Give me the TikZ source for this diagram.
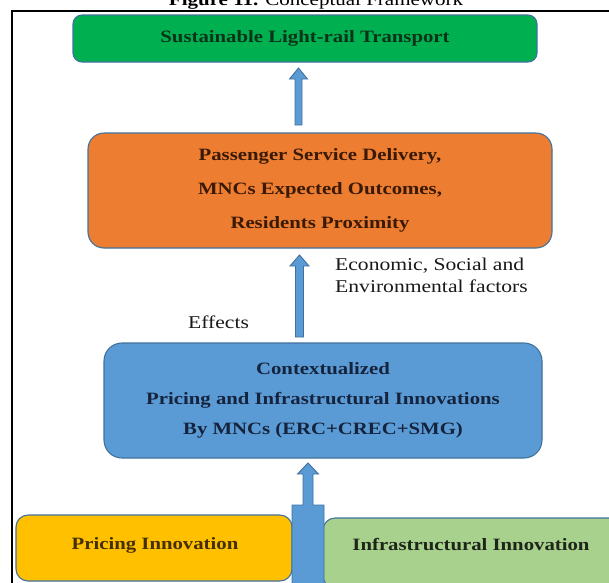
\documentclass[tikz,border=0pt]{standalone}
\usepackage{fontspec}
\setmainfont{Liberation Serif}
\usetikzlibrary{calc}
\definecolor{edgeblue}{HTML}{41719C}
\definecolor{greenfill}{HTML}{00B050}
\definecolor{orangefill}{HTML}{ED7D31}
\definecolor{bluefill}{HTML}{5B9BD5}
\definecolor{yellowfill}{HTML}{FFC000}
\definecolor{lgreenfill}{HTML}{A9D18E}
\definecolor{greentext}{HTML}{0B3318}
\definecolor{orangetext}{HTML}{3A1A05}
\definecolor{bluetext}{HTML}{15233D}
\definecolor{yellowtext}{HTML}{463000}
\definecolor{lgreentext}{HTML}{1E2619}
\newcommand\wx[1]{\scalebox{1.2}[1]{#1}}
\begin{document}
\begin{tikzpicture}[x=1pt,y=-1pt,
  boxstyle/.style={draw=edgeblue, line width=1.1pt, inner sep=0pt, align=center,
     font=\fontsize{17.3}{34}\selectfont\bfseries},
  arrowshape/.style={fill=bluefill, draw=edgeblue, line width=0.9pt, line join=miter},
  plaintext/.style={inner sep=0pt, font=\fontsize{18}{22}\selectfont, text=black!90}]
\useasboundingbox (0,0) rectangle (609,582);
\clip (0,0) rectangle (609,582);
\fill[white] (0,0) rectangle (609,582);
% frame
\draw[line width=1.8pt] (12,640) -- (12,11) -- (640,11);
% title
\node[inner sep=0pt, anchor=base, font=\fontsize{17.5}{20}\selectfont] (title) at (316,5.5)
  {\wx{\textbf{Figure 11.} Conceptual Framework}};
% boxes
\node[boxstyle, fill=greenfill, text=greentext, rounded corners=9pt,
  minimum width=464pt, minimum height=47pt] (slt) at (305,38.5)
  {\wx{Sustainable Light-rail Transport}};
\node[boxstyle, fill=orangefill, text=orangetext, rounded corners=16pt,
  minimum width=464pt, minimum height=115pt] (psd) at (320,190.5)
  {\wx{Passenger Service Delivery,}\\\wx{MNCs Expected Outcomes,}\\\wx{Residents Proximity}};
\node[boxstyle, fill=bluefill, text=bluetext, rounded corners=18pt,
  minimum width=438pt, minimum height=115pt,
  font=\fontsize{17.3}{30}\selectfont\bfseries] (ctx) at (323,400.5)
  {\wx{Contextualized}\\\wx{Pricing and Infrastructural Innovations}\\\wx{By MNCs (ERC+CREC+SMG)}};
\node[boxstyle, fill=yellowfill, text=yellowtext, rounded corners=12pt,
  minimum width=276pt, minimum height=66pt] (pri) at (154,548) {};
\node[inner sep=0pt, text=yellowtext, font=\fontsize{17.3}{20}\selectfont\bfseries] (pritxt) at (155,545)
  {\wx{Pricing Innovation}};
\node[boxstyle, fill=lgreenfill, text=lgreentext, rounded corners=12pt,
  minimum width=300pt, minimum height=70pt] (inf) at (473,553) {};
\node[inner sep=0pt, text=lgreentext, font=\fontsize{17.3}{20}\selectfont\bfseries] (inftxt) at (471,545)
  {\wx{Infrastructural Innovation}};
% labels
\node[plaintext, anchor=west, align=left, font=\fontsize{18}{22}\selectfont] (esf) at (335,275)
  {\wx{Economic, Social and}\\\wx{Environmental factors}};
\node[plaintext, anchor=west] (eff) at (188,322) {\wx{Effects}};
% arrow 1: orange -> green
\coordinate (a1b) at (298.5,125);
\coordinate (a1t) at (298.5,68);
\draw[arrowshape] ($(a1b)+(-3.5,0)$) -- ($(a1t)+(-3.5,11)$) -- ($(a1t)+(-9,11)$) -- (a1t)
  -- ($(a1t)+(9,11)$) -- ($(a1t)+(3.5,11)$) -- ($(a1b)+(3.5,0)$) -- cycle;
% arrow 2: blue -> orange
\coordinate (a2b) at (299.5,337);
\coordinate (a2t) at (299.5,255);
\draw[arrowshape] ($(a2b)+(-4,0)$) -- ($(a2t)+(-4,11)$) -- ($(a2t)+(-9.5,11)$) -- (a2t)
  -- ($(a2t)+(9.5,11)$) -- ($(a2t)+(4,11)$) -- ($(a2b)+(4,0)$) -- cycle;
% arrow 3: bottom boxes -> blue
\coordinate (a3b) at (308,595);
\coordinate (a3t) at (308,463);
\draw[arrowshape] ($(a3b)+(-16,0)$) -- (292,505) -- ($(a3t)+(-5,42)$) -- ($(a3t)+(-5,11)$)
  -- ($(a3t)+(-10.5,11)$) -- (a3t) -- ($(a3t)+(10.5,11)$) -- ($(a3t)+(5,11)$)
  -- ($(a3t)+(5,42)$) -- (324,505) -- ($(a3b)+(16,0)$) -- cycle;
\end{tikzpicture}
\end{document}
